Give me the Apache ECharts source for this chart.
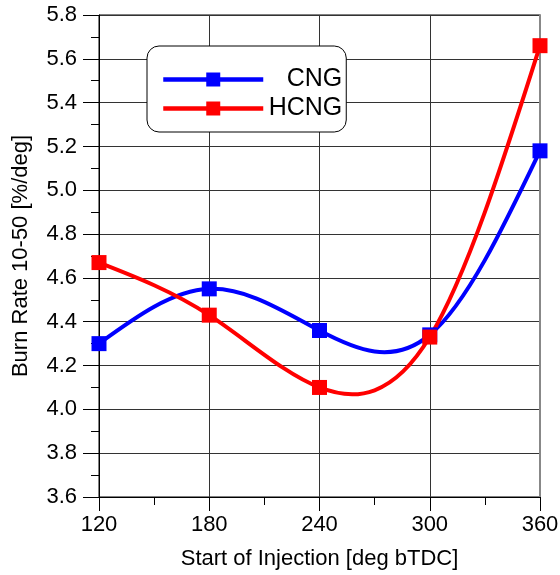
<!DOCTYPE html>
<html>
<head>
<meta charset="utf-8">
<script src="https://cdn.jsdelivr.net/npm/echarts@6/dist/echarts.min.js"></script>
<style>html,body{margin:0;padding:0;background:#fff;}#main{width:560px;height:575px;}</style>
</head>
<body>
<div id="main"></div>
<script>
const xValues = [120, 180, 240, 300, 360];
const xTicks = [120, 180, 240, 300, 360];
const yTicks = [3.6, 3.8, 4.0, 4.2, 4.4, 4.6, 4.8, 5.0, 5.2, 5.4, 5.6, 5.8];
const seriesNames = ['CNG', 'HCNG'];
const cngValues = [4.30, 4.55, 4.36, 4.34, 5.18];
const hcngValues = [4.67, 4.43, 4.10, 4.33, 5.66];
const colors = ['#0000ff', '#ff0000'];

// natural cubic spline through pixel points -> bezier segments
function splineChildren(pts, color) {
  const n = pts.length;
  const h = [], a = [], b = [], c = [], r = [];
  for (let i = 0; i < n - 1; i++) h.push(pts[i + 1][0] - pts[i][0]);
  const M = new Array(n).fill(0);
  const m = n - 2;
  if (m > 0) {
    for (let i = 1; i <= m; i++) {
      a.push(h[i - 1]);
      b.push(2 * (h[i - 1] + h[i]));
      c.push(h[i]);
      r.push(6 * ((pts[i + 1][1] - pts[i][1]) / h[i] - (pts[i][1] - pts[i - 1][1]) / h[i - 1]));
    }
    for (let i = 1; i < m; i++) {
      const w = a[i] / b[i - 1];
      b[i] -= w * c[i - 1];
      r[i] -= w * r[i - 1];
    }
    const sol = new Array(m);
    sol[m - 1] = r[m - 1] / b[m - 1];
    for (let i = m - 2; i >= 0; i--) sol[i] = (r[i] - c[i] * sol[i + 1]) / b[i];
    for (let i = 0; i < m; i++) M[i + 1] = sol[i];
  }
  const children = [];
  for (let i = 0; i < n - 1; i++) {
    const hi = h[i];
    const y0 = pts[i][1], y1 = pts[i + 1][1];
    const d0 = (y1 - y0) / hi - hi * (2 * M[i] + M[i + 1]) / 6;
    const d1 = (y1 - y0) / hi + hi * (M[i] + 2 * M[i + 1]) / 6;
    children.push({
      type: 'bezierCurve',
      shape: {
        x1: pts[i][0], y1: y0,
        cpx1: pts[i][0] + hi / 3, cpy1: y0 + d0 * hi / 3,
        cpx2: pts[i + 1][0] - hi / 3, cpy2: y1 - d1 * hi / 3,
        x2: pts[i + 1][0], y2: y1
      },
      style: { stroke: color, lineWidth: 4, fill: null, lineCap: 'round' }
    });
  }
  return children;
}

function curveSeries(values, color) {
  return {
    type: 'custom',
    silent: true,
    z: 2,
    clip: true,
    data: [[xValues[0], values[0]]],
    encode: { x: 0, y: 1 },
    renderItem: function (params, api) {
      const pts = xValues.map((x, i) => api.coord([x, values[i]]));
      return { type: 'group', children: splineChildren(pts, color) };
    }
  };
}

function pointSeries(name, values, color) {
  return {
    name: name,
    type: 'line',
    z: 5,
    data: xValues.map((x, i) => [x, values[i]]),
    symbol: 'rect',
    symbolSize: 15,
    itemStyle: { color: color },
    lineStyle: { color: color, width: 4, opacity: 0 },
    emphasis: { disabled: true },
    animation: false
  };
}

const FONT = 'Liberation Sans, Arial, sans-serif';
const chart = echarts.init(document.getElementById('main'), null, { renderer: 'canvas' });
chart.setOption({
  animation: false,
  backgroundColor: '#fff',
  grid: { left: 99, right: 20, top: 15, bottom: 78, outerBoundsMode: 'none', show: true, borderColor: '#000', borderWidth: 1 },
  legend: {
    left: 147, top: 46,
    orient: 'vertical',
    backgroundColor: '#fff',
    borderColor: '#000', borderWidth: 1, borderRadius: 12,
    padding: [21, 4, 11, 14],
    itemWidth: 100, itemHeight: 17.5,
    itemGap: 4,
    itemTextGap: 6,
    selectedMode: false,
    lineStyle: { opacity: 1, width: 4.5 },
    data: seriesNames.map((n, i) => ({ name: n, lineStyle: { color: colors[i], width: 4.5, opacity: 1 } })),
    formatter: function (name) { return '{a|' + name + '}'; },
    textStyle: {
      rich: { a: { fontFamily: FONT, fontSize: 25, width: 74, align: 'right', color: '#000', lineHeight: 25 } }
    }
  },
  xAxis: [{
    type: 'value', min: xTicks[0], max: xTicks[xTicks.length - 1], interval: 60,
    name: 'Start of Injection [deg bTDC]', nameLocation: 'middle', nameGap: 51,
    nameTextStyle: { fontFamily: FONT, fontSize: 22, color: '#000' },
    axisLine: { show: true, lineStyle: { color: '#000', width: 1 } },
    axisTick: { show: true, length: 14, lineStyle: { color: '#000' } },
    minorTick: { show: true, splitNumber: 2, length: 8, lineStyle: { color: '#000' } },
    axisLabel: { fontFamily: FONT, fontSize: 22, color: '#000', margin: 17 },
    splitLine: { show: true, lineStyle: { color: '#333', width: 1 } }
  }],
  yAxis: [{
    type: 'value', min: yTicks[0], max: yTicks[yTicks.length - 1], interval: 0.2,
    name: 'Burn Rate 10-50 [%/deg]', nameLocation: 'middle', nameGap: 67,
    nameTextStyle: { fontFamily: FONT, fontSize: 22, color: '#000' },
    axisLine: { show: true, lineStyle: { color: '#000', width: 1 } },
    axisTick: { show: true, length: 16, lineStyle: { color: '#000' } },
    minorTick: { show: true, splitNumber: 2, length: 8, lineStyle: { color: '#000' } },
    axisLabel: { fontFamily: FONT, fontSize: 22, color: '#000', margin: 22, formatter: v => v.toFixed(1) },
    splitLine: { show: true, lineStyle: { color: '#333', width: 1 } }
  }, {
    type: 'value', position: 'right', min: yTicks[0], max: yTicks[yTicks.length - 1], interval: 0.2,
    axisLine: { show: true, onZero: false, lineStyle: { color: '#888', width: 2 } },
    axisTick: { show: false }, axisLabel: { show: false }, splitLine: { show: false }
  }],
  series: [
    curveSeries(cngValues, colors[0]),
    curveSeries(hcngValues, colors[1]),
    pointSeries(seriesNames[0], cngValues, colors[0]),
    pointSeries(seriesNames[1], hcngValues, colors[1])
  ]
});
</script>
</body>
</html>
